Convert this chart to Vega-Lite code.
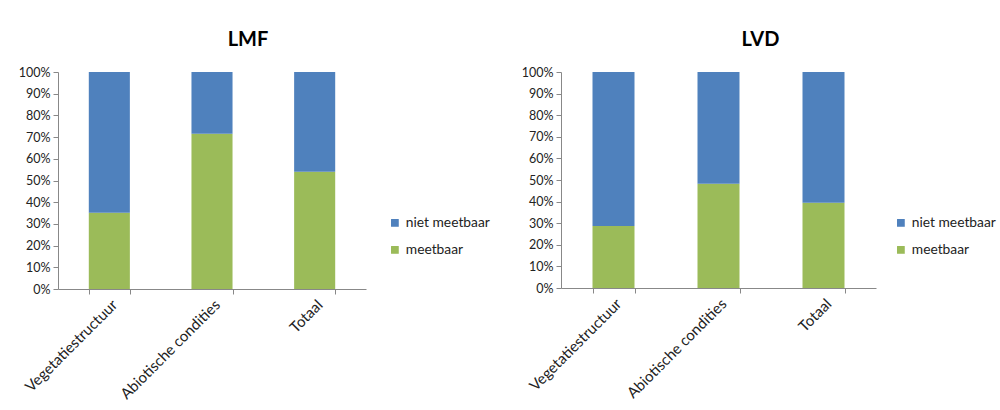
{
  "$schema": "https://vega.github.io/schema/vega-lite/v6.json",
  "padding": {"left": 18, "top": 30, "right": 5, "bottom": 5},
  "background": "white",
  "data": {"values": [
    {"panel": "LMF", "categorie": "Vegetatiestructuur", "status": "meetbaar", "aandeel": 35.1},
    {"panel": "LMF", "categorie": "Vegetatiestructuur", "status": "niet meetbaar", "aandeel": 64.9},
    {"panel": "LMF", "categorie": "Abiotische condities", "status": "meetbaar", "aandeel": 71.6},
    {"panel": "LMF", "categorie": "Abiotische condities", "status": "niet meetbaar", "aandeel": 28.4},
    {"panel": "LMF", "categorie": "Totaal", "status": "meetbaar", "aandeel": 54.0},
    {"panel": "LMF", "categorie": "Totaal", "status": "niet meetbaar", "aandeel": 46.0},
    {"panel": "LVD", "categorie": "Vegetatiestructuur", "status": "meetbaar", "aandeel": 28.7},
    {"panel": "LVD", "categorie": "Vegetatiestructuur", "status": "niet meetbaar", "aandeel": 71.3},
    {"panel": "LVD", "categorie": "Abiotische condities", "status": "meetbaar", "aandeel": 48.3},
    {"panel": "LVD", "categorie": "Abiotische condities", "status": "niet meetbaar", "aandeel": 51.7},
    {"panel": "LVD", "categorie": "Totaal", "status": "meetbaar", "aandeel": 39.5},
    {"panel": "LVD", "categorie": "Totaal", "status": "niet meetbaar", "aandeel": 60.5}
  ]},
  "bounds": "flush",
  "spacing": 195,
  "resolve": {"scale": {"color": "independent", "y": "independent", "x": "independent"}, "legend": {"color": "independent"}},
  "hconcat": [
    {
      "title": {"text": "LMF", "dx": 36},
      "width": 308,
      "height": 217,
      "transform": [{"filter": "datum.panel === 'LMF'"}],
      "mark": {"type": "bar"},
      "encoding": {
        "x": {"field": "categorie", "type": "nominal", "sort": ["Vegetatiestructuur", "Abiotische condities", "Totaal"], "title": null,
              "scale": {"paddingInner": 0.6, "paddingOuter": 0.3}},
        "y": {"field": "aandeel", "type": "quantitative", "stack": "normalize", "title": null,
              "axis": {"values": [0, 0.1, 0.2, 0.3, 0.4, 0.5, 0.6, 0.7, 0.8, 0.9, 1], "format": ".0%"}},
        "order": {"field": "status", "sort": "ascending"},
        "color": {"field": "status", "type": "nominal",
                  "scale": {"domain": ["niet meetbaar", "meetbaar"], "range": ["#4F81BD", "#9BBB59"]},
                  "legend": {"orient": "none", "legendX": 330, "legendY": 144}}
      }
    },
    {
      "title": {"text": "LVD", "dx": 42},
      "width": 315,
      "height": 216,
      "transform": [{"filter": "datum.panel === 'LVD'"}],
      "mark": {"type": "bar"},
      "encoding": {
        "x": {"field": "categorie", "type": "nominal", "sort": ["Vegetatiestructuur", "Abiotische condities", "Totaal"], "title": null,
              "scale": {"paddingInner": 0.6, "paddingOuter": 0.3}},
        "y": {"field": "aandeel", "type": "quantitative", "stack": "normalize", "title": null,
              "axis": {"values": [0, 0.1, 0.2, 0.3, 0.4, 0.5, 0.6, 0.7, 0.8, 0.9, 1], "format": ".0%"}},
        "order": {"field": "status", "sort": "ascending"},
        "color": {"field": "status", "type": "nominal",
                  "scale": {"domain": ["niet meetbaar", "meetbaar"], "range": ["#4F81BD", "#9BBB59"]},
                  "legend": {"orient": "none", "legendX": 333, "legendY": 144}}
      }
    }
  ],
  "config": {
    "font": "Lato",
    "view": {"stroke": null},
    "title": {"fontSize": 20, "fontWeight": "bold", "font": "Lato", "color": "#000000", "offset": 16, "anchor": "middle"},
    "axis": {"grid": false, "domainColor": "#888888", "tickColor": "#888888", "labelColor": "#222222",
             "labelFont": "Lato", "labelFontSize": 12.5, "tickSize": 5, "labelPadding": 3},
    "axisX": {"labelAngle": -45, "tickBand": "extent", "labelFontSize": 15},
    "legend": {"title": null, "symbolType": "square", "symbolSize": 60, "labelFont": "Lato", "labelFontSize": 13.8,
               "labelColor": "#222222", "rowPadding": 12, "labelOffset": 4, "symbolStrokeWidth": 0}
  }
}
